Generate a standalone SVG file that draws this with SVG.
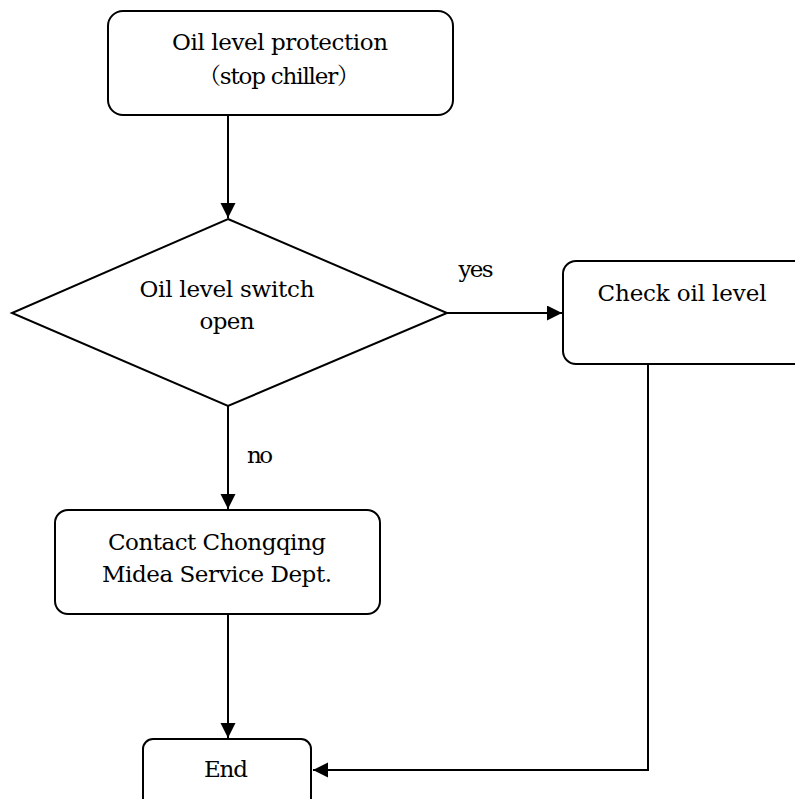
<svg xmlns="http://www.w3.org/2000/svg" width="795" height="799" viewBox="0 0 795 799">
<style>
.box{fill:#fff;stroke:#000;stroke-width:2}
.t{font-family:'DejaVu Serif','Noto Serif CJK SC','Noto Sans CJK SC',serif;font-size:23px;fill:#000;text-anchor:middle}
.c{fill:none;stroke:#000;stroke-width:2}
</style>
<defs>
<marker id="ah" markerUnits="userSpaceOnUse" markerWidth="16" markerHeight="16" refX="15" refY="7.5" orient="auto">
<path d="M0,0 L15,7.5 L0,15 z" fill="#000"/>
</marker>
</defs>
<rect width="795" height="799" fill="#fff"/>
<g id="connectors">
<line class="c" x1="228" y1="115" x2="228" y2="218" marker-end="url(#ah)"/>
<line class="c" x1="447" y1="313" x2="562" y2="313" marker-end="url(#ah)"/>
<line class="c" x1="228" y1="406" x2="228" y2="509" marker-end="url(#ah)"/>
<line class="c" x1="228" y1="614" x2="228" y2="738" marker-end="url(#ah)"/>
<polyline class="c" points="648,364 648,770 313,770" marker-end="url(#ah)"/>
<text class="t" x="476" y="277" textLength="35">yes</text>
<text class="t" x="260" y="463" textLength="26">no</text>
</g>
<g id="start">
<rect class="box" x="108" y="11" width="345" height="104" rx="15"/>
<text class="t" x="280" y="50" textLength="216">Oil level protection</text>
<text class="t" x="279" y="84" textLength="162">（stop chiller）</text>
</g>
<g id="decision">
<polygon class="box" points="228,219 447,313 228,406 12,313"/>
<text class="t" x="227" y="297" textLength="175">Oil level switch</text>
<text class="t" x="227" y="329" textLength="55">open</text>
</g>
<g id="check">
<rect class="box" x="563" y="261" width="245" height="103" rx="13"/>
<text class="t" x="682" y="301" textLength="169">Check oil level</text>
</g>
<g id="contact">
<rect class="box" x="55" y="510" width="325" height="104" rx="13"/>
<text class="t" x="217" y="550" textLength="218">Contact Chongqing</text>
<text class="t" x="217" y="582" textLength="230">Midea Service Dept.</text>
</g>
<g id="end">
<rect class="box" x="143" y="739" width="168" height="90" rx="10"/>
<text class="t" x="226" y="777" textLength="44">End</text>
</g>
</svg>
